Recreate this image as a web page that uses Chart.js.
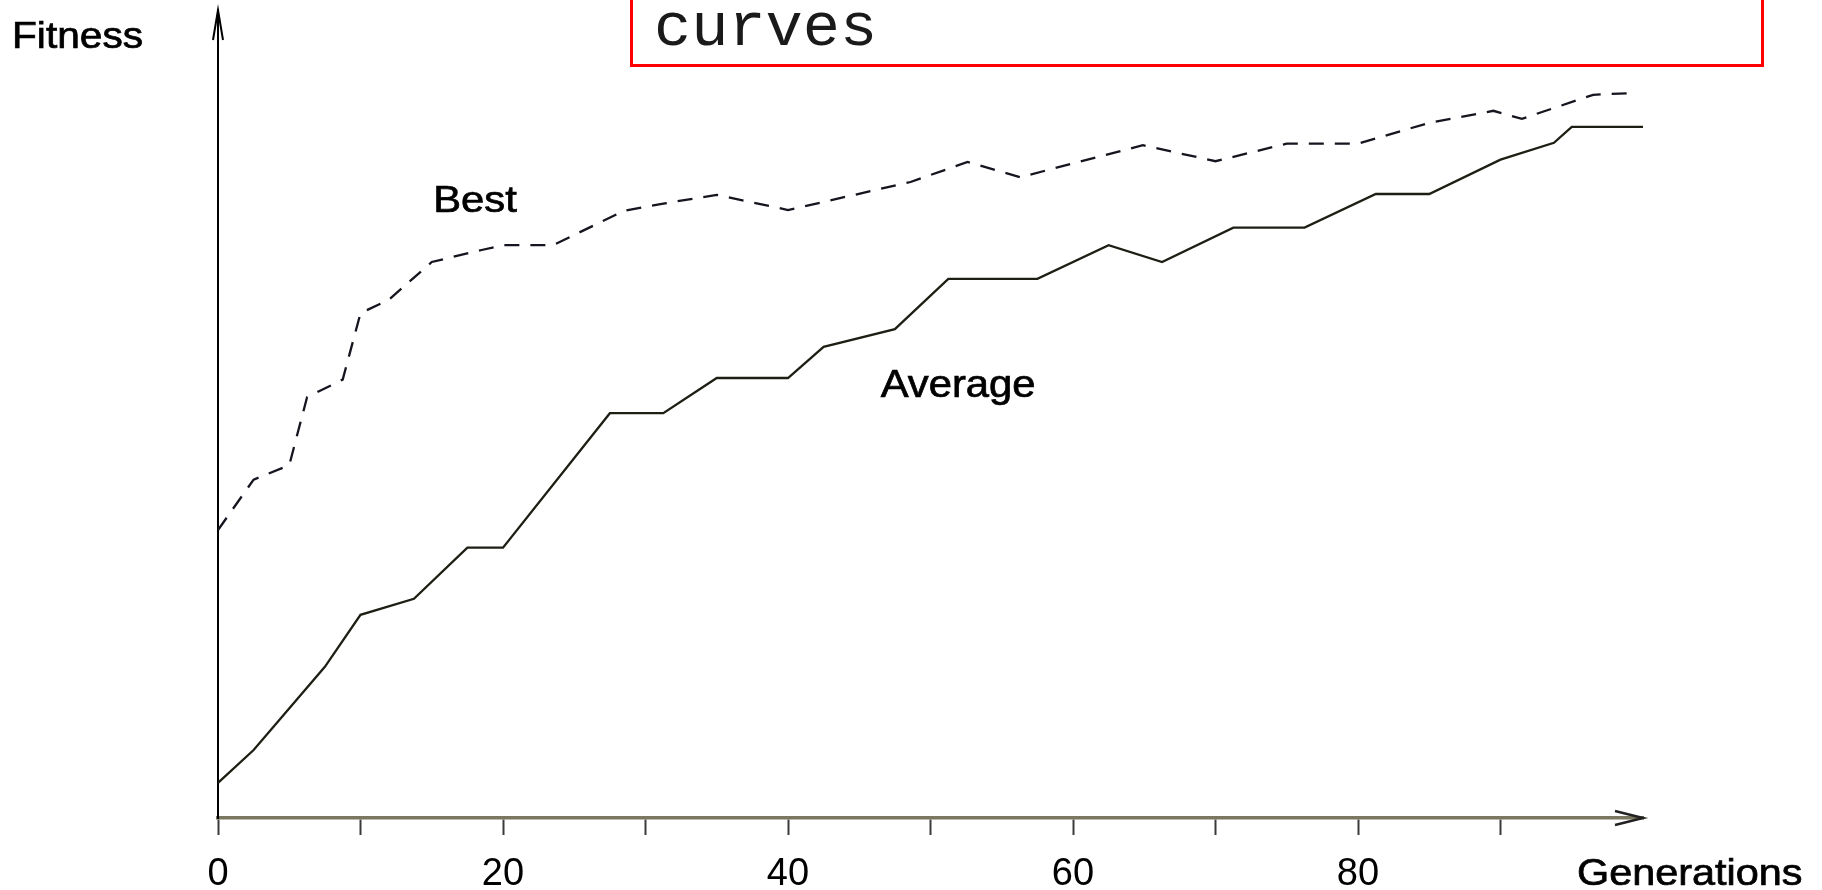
<!DOCTYPE html>
<html>
<head>
<meta charset="utf-8">
<title>Fitness curves</title>
<script src="https://cdn.jsdelivr.net/npm/chart.js@4.4.1/dist/chart.umd.min.js"></script>
<style>
  body { margin: 0; background: #fff; overflow: hidden; }
  #wrap { position: relative; width: 1822px; height: 890px; }
  #note {
    position: absolute; left: 630px; top: -30px; width: 1134px; height: 97px;
    border: 3px solid #ff0000; box-sizing: border-box;
    font-family: "Liberation Mono", "DejaVu Sans Mono", monospace; font-size: 62px;
    color: #1a1a1a; line-height: 1;
  }
  #note span { position: absolute; left: 21px; top: 25px; }
</style>
</head>
<body>
<div id="wrap">
  <canvas id="fitnessChart" width="1822" height="890"></canvas>
  <div id="note"><span>curves</span></div>
</div>
<script>
// values (generation, fitness on a 0-101 scale)
const avgGen = [0, 2.5, 7.5, 10, 13.75, 17.5, 20, 27.5, 31.25, 35, 40, 42.5, 47.5, 51.25, 57.5, 62.5, 66.25, 71.25, 76.25, 81.25, 85, 90, 93.75, 95, 100];
const avgFitness = [4.4, 8.5, 18.9, 25.4, 27.4, 33.8, 33.8, 50.6, 50.6, 55, 55, 58.9, 61.1, 67.4, 67.4, 71.6, 69.5, 73.8, 73.8, 78, 78, 82.3, 84.4, 86.4, 86.4];

const bestGen = [0, 2.5, 5, 6.25, 8.75, 10, 12, 15, 18.5, 20, 23.5, 28.5, 31.25, 35, 40, 48.6, 52.6, 56.3, 64.9, 70, 75, 80, 85, 89.5, 91.5, 96.5, 99];
const bestFitness = [36, 42.3, 44.1, 52.6, 54.8, 63.1, 64.8, 69.5, 71, 71.6, 71.6, 75.9, 76.8, 77.9, 76, 79.5, 82, 80.1, 84.1, 82.1, 84.3, 84.3, 86.9, 88.4, 87.4, 90.4, 90.6];

const xTickLabels = [0, 20, 40, 60, 80];

// curve labels, anchored in data coordinates [gen, fitness]
const curveLabels = [
    { text: "Best", at: [15.1, 75.7], size: 37, sx: 1.13 },
    { text: "Average", at: [46.5, 52.6], size: 38, sx: 1.1 }
];

const FONT = "'Liberation Sans', Arial, sans-serif";

function toPoints(xs, ys) {
    return xs.map((x, i) => ({ x: x, y: ys[i] }));
}

// draw stretched text (the original lettering is a bit wide and heavy)
function wideText(ctx, txt, x, y, size, sx) {
    ctx.save();
    ctx.font = size + "px " + FONT;
    ctx.fillStyle = "#000";
    ctx.strokeStyle = "#000";
    ctx.lineWidth = 0.7;
    ctx.textBaseline = "alphabetic";
    ctx.translate(x, y);
    ctx.scale(sx, 1);
    ctx.fillText(txt, 0, 0);
    ctx.strokeText(txt, 0, 0);
    ctx.restore();
}

// arrows on the axes + axis titles + curve labels
const decorations = {
    id: "decorations",
    afterDraw(chart) {
        const ctx = chart.ctx;
        const area = chart.chartArea;
        const xs = chart.scales.x, ys = chart.scales.y;

        ctx.save();
        // y axis arrow head (open)
        ctx.strokeStyle = "#000";
        ctx.lineWidth = 2;
        ctx.beginPath();
        ctx.moveTo(area.left - 5, area.top + 30);
        ctx.lineTo(area.left, area.top);
        ctx.lineTo(area.left + 5, area.top + 30);
        ctx.stroke();

        // x axis arrow head
        ctx.strokeStyle = "#222";
        ctx.lineWidth = 2.5;
        ctx.beginPath();
        ctx.moveTo(area.right - 28, area.bottom - 7);
        ctx.lineTo(area.right, area.bottom);
        ctx.lineTo(area.right - 28, area.bottom + 7);
        ctx.stroke();
        ctx.restore();

        wideText(ctx, "Fitness", 12, 48, 36, 1.13);
        wideText(ctx, "Generations", 1577, 885, 36, 1.15);

        curveLabels.forEach(l => {
            wideText(ctx, l.text, xs.getPixelForValue(l.at[0]), ys.getPixelForValue(l.at[1]), l.size, l.sx);
        });
    }
};

const ctx = document.getElementById("fitnessChart").getContext("2d");
const fitnessChart = new Chart(ctx, {
    type: "line",
    data: {
        datasets: [
            {
                label: "Best",
                data: toPoints(bestGen, bestFitness),
                borderColor: "#15151f",
                borderWidth: 2.3,
                borderDash: [15, 11],
                pointRadius: 0,
                tension: 0,
                fill: false
            },
            {
                label: "Average",
                data: toPoints(avgGen, avgFitness),
                borderColor: "#1f1e14",
                borderWidth: 2.3,
                pointRadius: 0,
                tension: 0,
                fill: false
            }
        ]
    },
    options: {
        responsive: false,
        animation: false,
        devicePixelRatio: 1,
        layout: { padding: { left: 218, right: 179, top: 10, bottom: 0 } },
        plugins: {
            legend: { display: false },
            tooltip: { enabled: false }
        },
        scales: {
            x: {
                type: "linear",
                min: 0,
                max: 100,
                border: { display: true, color: "#7a775f", width: 3.5 },
                grid: {
                    drawOnChartArea: false,
                    drawTicks: true,
                    tickLength: 17,
                    tickWidth: 2,
                    tickColor: c => (c.tick && c.tick.value === 100 ? "rgba(0,0,0,0)" : "#3a3a3a")
                },
                ticks: {
                    stepSize: 10,
                    padding: 17,
                    color: "#000",
                    font: { family: FONT, size: 38 },
                    callback: v => (xTickLabels.includes(v) ? String(v) : "")
                },
                afterFit: s => { s.height = 72; }
            },
            y: {
                type: "linear",
                min: 0,
                max: 101,
                border: { display: true, color: "#000", width: 2 },
                grid: { display: true, drawOnChartArea: false, drawTicks: false },
                ticks: { display: false },
                afterFit: s => { s.width = 0; }
            }
        }
    },
    plugins: [decorations]
});
</script>
</body>
</html>
